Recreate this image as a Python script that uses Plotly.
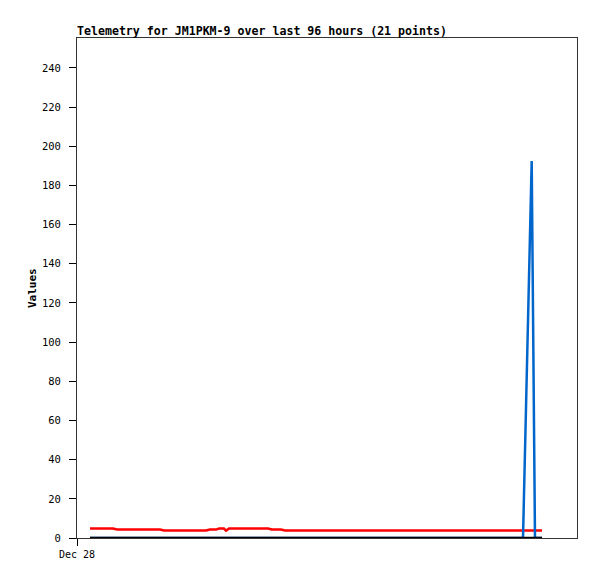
import plotly.graph_objects as go

times = [
    "2023-12-28 02:30", "2023-12-28 06:55", "2023-12-28 07:41", "2023-12-28 15:56",
    "2023-12-28 16:42", "2023-12-29 00:46", "2023-12-29 01:32", "2023-12-29 02:41",
    "2023-12-29 03:16", "2023-12-29 04:13", "2023-12-29 04:36", "2023-12-29 05:11",
    "2023-12-29 12:40", "2023-12-29 13:26", "2023-12-29 15:10", "2023-12-29 15:56",
    "2023-12-30 14:01", "2023-12-31 13:38", "2023-12-31 15:18", "2023-12-31 15:56",
    "2023-12-31 17:17",
]
red_values = [4.8, 4.8, 4.3, 4.3, 3.8, 3.8, 4.3, 4.3, 4.8, 4.8, 3.8, 4.8,
              4.8, 4.3, 4.3, 3.8, 3.8, 3.8, 3.8, 3.8, 3.8]
blue_values = [0, 0, 0, 0, 0, 0, 0, 0, 0, 0, 0, 0,
               0, 0, 0, 0, 0, 0, 192.5, 0, 0]
black_values = [0] * 21

y_ticks = list(range(0, 241, 20))
x_tick_vals = ["2023-12-28 00:00"]
x_tick_text = ["Dec 28"]

W, H = 581, 563
fig = go.Figure()
fig.add_trace(go.Scatter(x=times, y=red_values, mode="lines",
                         line=dict(color="#ff0000", width=2.5), showlegend=False))
fig.add_trace(go.Scatter(x=times, y=blue_values, mode="lines",
                         line=dict(color="#0066cc", width=2.5), showlegend=False))
fig.add_trace(go.Scatter(x=times, y=black_values, mode="lines",
                         line=dict(color="#000000", width=2.5), showlegend=False))

mono = "DejaVu Sans Mono"
fig.update_layout(
    width=W, height=H,
    margin=dict(l=69, r=12, t=30, b=33),
    paper_bgcolor="white", plot_bgcolor="white",
    title=dict(text="<b>Telemetry for JM1PKM-9 over last 96 hours (21 points)</b>",
               font=dict(family=mono, size=11.6, color="#000"),
               x=69 / W, xanchor="left", xref="container",
               y=1 - 23 / H, yanchor="middle", yref="container"),
    xaxis=dict(type="date", range=["2023-12-28 00:00", "2024-01-01 00:00"],
               tickvals=x_tick_vals, ticktext=x_tick_text,
               showgrid=False, zeroline=False, showline=True, mirror=True,
               linecolor="#333", linewidth=1, ticks="outside", ticklen=7,
               tickcolor="#000", tickfont=dict(family=mono, size=10, color="#000")),
    yaxis=dict(range=[0, 255.3], tickvals=y_ticks,
               showgrid=False, zeroline=False, showline=True, mirror=True,
               linecolor="#333", linewidth=1, ticks="outside", ticklen=7,
               ticklabelstandoff=6,
               tickcolor="#000", tickfont=dict(family=mono, size=10.5, color="#000")),
    annotations=[dict(text="<b>Values</b>", textangle=-90, showarrow=False,
                      xref="paper", yref="paper", x=(32 - 77) / 500, y=0.5,
                      xanchor="center", yanchor="middle",
                      font=dict(family=mono, size=11, color="#000"))],
)

fig.write_html("out.html")
